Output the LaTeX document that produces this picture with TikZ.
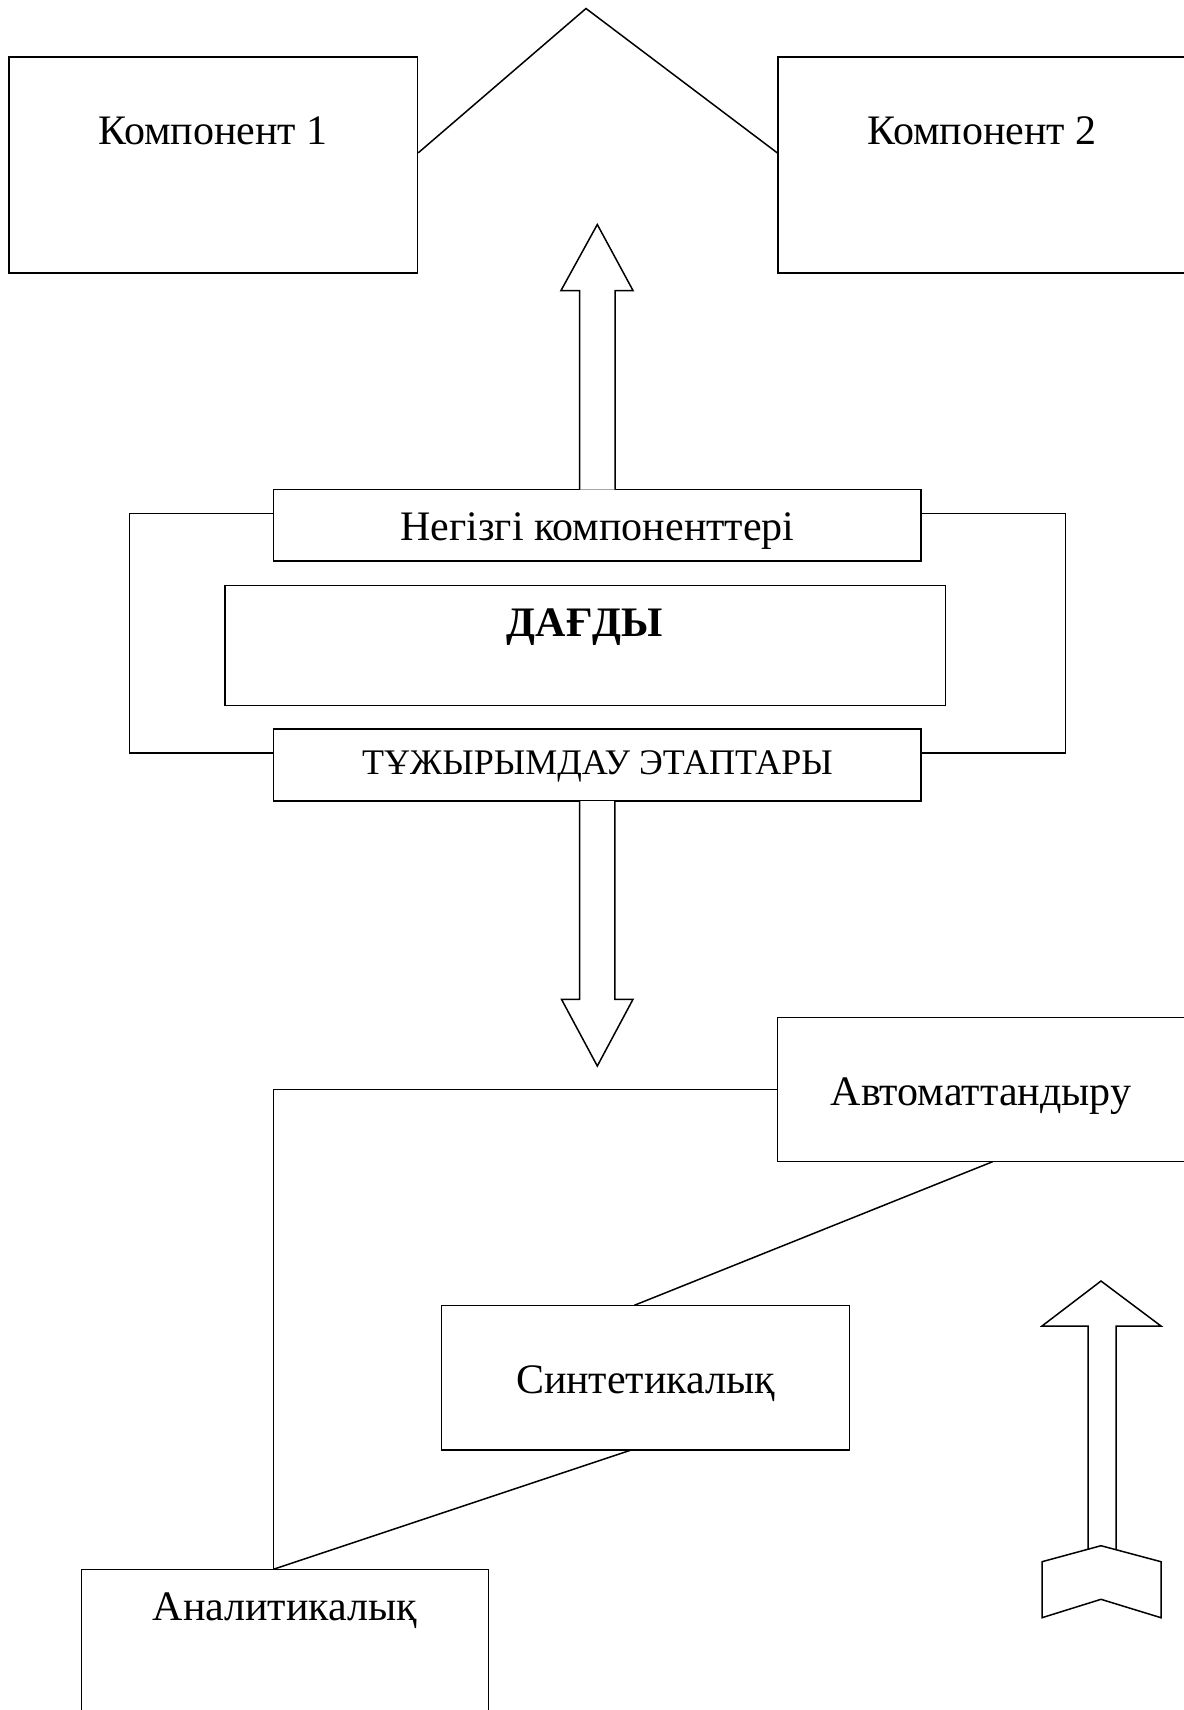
\documentclass[tikz,border=0pt]{standalone}
\usepackage{fontspec}
\setmainfont{Liberation Serif}
\usetikzlibrary{fit,calc}
\begin{document}
\begin{tikzpicture}[x=0.5pt,y=-0.5pt,
  box/.style={draw,line width=0.75pt,inner sep=0pt,fill=none},
  lbl/.style={anchor=base,inner sep=0pt,font=\fontsize{21}{25}\selectfont},
  lblsmall/.style={anchor=base,inner sep=0pt,font=\fontsize{18}{22}\selectfont},
  conn/.style={line width=0.75pt},
  bigarrow/.style={draw,line width=0.75pt,line join=miter,fill=white}]
\useasboundingbox[fill=white] (0,0) rectangle (1184,1710);

% top components
\node[box,fit={(9,57)(417.5,273)}] (c1) {};
\node[box,fit={(778,57)(1187,273)}] (c2) {};
\node[lbl] (t1) at (213,144) {Компонент 1};
\node[lbl] (t2) at (982,144) {Компонент 2};
\coordinate (apex) at (586,8.5);
\draw[conn] ($(c1.north east)!0.444!(c1.south east)$) -- (apex) -- ($(c2.north west)!0.444!(c2.south west)$);

% central block
\node[box,fit={(273.5,489.5)(921,561)}] (n1) {};
\node[box,fit={(225,585.5)(945.5,705.5)}] (dg) {};
\node[box,fit={(273.5,729)(921,801)}] (n2) {};
\node[lbl] (tn1) at (597.5,540) {Негізгі компоненттері};
\node[lbl,font=\fontsize{21}{25}\selectfont\bfseries] (tdg) at (585,636) {ДАҒДЫ};
\node[lblsmall] (tn2) at (597.5,774) {ТҰЖЫРЫМДАУ ЭТАПТАРЫ};
\draw[conn] (n1.west |- 0,513.6) -- (129.5,513.6) -- (129.5,752.8) -- (n2.west |- 0,752.8);
\draw[conn] (n1.east |- 0,513.6) -- (1065.5,513.6) -- (1065.5,752.8) -- (n2.east |- 0,752.8);

% up arrow from n1
\draw[bigarrow] (579.5,489.5) -- (579.5,290.5) -- (561,290.5) -- (597.3,224.5) -- (633,290.5) -- (615,290.5) -- (615,489.5);
% down arrow from n2
\draw[bigarrow] (579.7,801) -- (579.7,999.3) -- (561.5,999.3) -- (597.3,1066) -- (633,999.3) -- (614.8,999.3) -- (614.8,801);

% lower part
\node[box,fit={(777.3,1017.7)(1187,1161.7)}] (avt) {};
\node[box,fit={(441.7,1305.3)(849.5,1450)}] (syn) {};
\node[box,fit={(81.6,1569.3)(488.6,1730)}] (an) {};
\node[lbl] (tavt) at (981,1105) {Автоматтандыру};
\node[lbl] (tsyn) at (645.6,1393) {Синтетикалық};
\node[lbl] (tan) at (285,1620) {Аналитикалық};

\coordinate (antop) at (273.4,1569.3);
\draw[conn] (avt.west) -- (antop |- avt.west) -- (antop);
\draw[conn] (992.6,1161.7) -- (634.3,1305.3);
\draw[conn] (631.3,1450) -- (antop);

% right fletched arrow
\draw[bigarrow] (1088,1549.2) -- (1088,1326) -- (1042,1326) -- (1101,1281) -- (1161,1326) -- (1116,1326) -- (1116,1549.7);
\draw[bigarrow] (1042,1561.7) -- (1101,1545.7) -- (1161,1561.7) -- (1161,1617.7) -- (1101,1599.3) -- (1042,1617.7) -- cycle;
\end{tikzpicture}
\end{document}
